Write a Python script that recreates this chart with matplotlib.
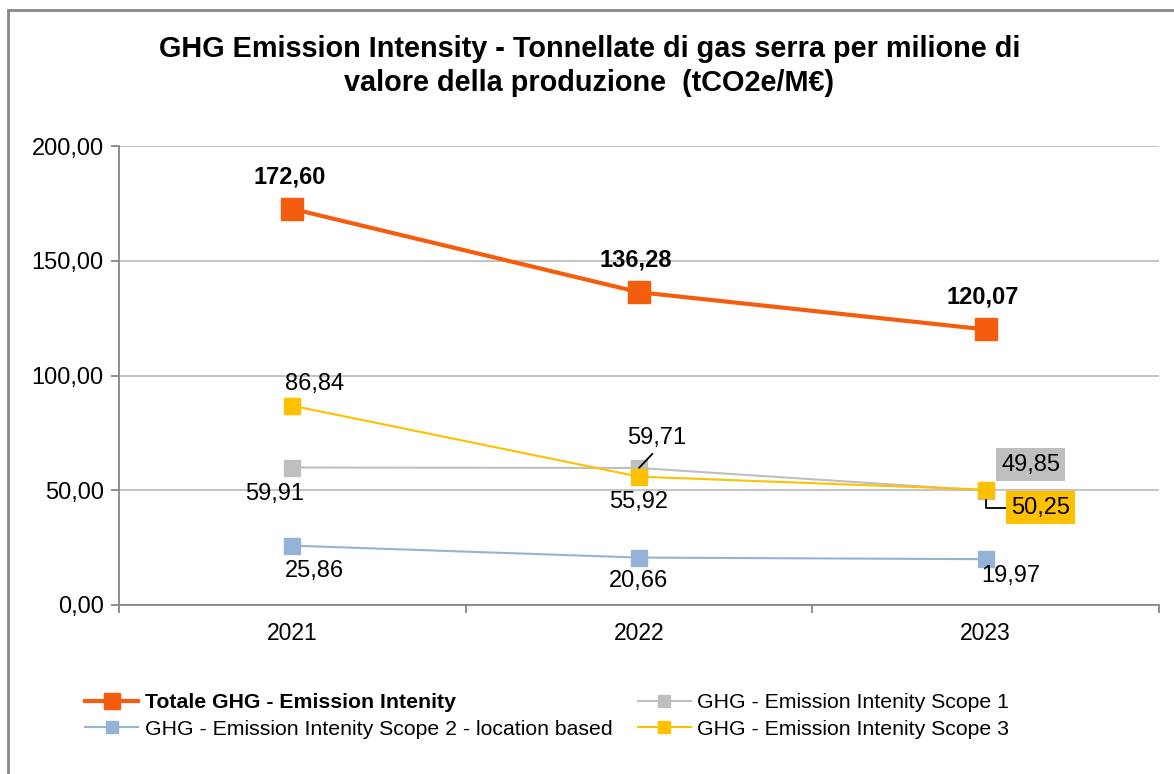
import numpy as np
import matplotlib
matplotlib.use('agg')
import matplotlib.pyplot as plt
from matplotlib.patches import Rectangle

## Data
years = ['2021', '2022', '2023']
totale = [172.60, 136.28, 120.07]
scope1 = [59.91, 59.71, 49.85]
scope2 = [25.86, 20.66, 19.97]
scope3 = [86.84, 55.92, 50.25]

names = ['Totale GHG - Emission Intenity',
         'GHG - Emission Intenity Scope 1',
         'GHG - Emission Intenity Scope 2 - location based',
         'GHG - Emission Intenity Scope 3']

c_tot = '#F55D0E'
c_s1 = '#BFBFBF'
c_s2 = '#95B3D7'
c_s3 = '#FFC000'

def fmt(v):
    return ('%.2f' % v).replace('.', ',')

plt.rcParams['font.family'] = ['Liberation Sans', 'DejaVu Sans']
fs = 17

fig = plt.figure(figsize=(11.74, 7.74), dpi=100)
ax = fig.add_axes([119/1174, 1-605/774, 1040/1174, 459/774])

x = np.arange(len(years)) + 0.5

# grid
ax.set_ylim(0, 200)
ax.set_xlim(0, 3)
ax.set_yticks([0, 50, 100, 150, 200])
ax.set_yticklabels([fmt(v) for v in [0, 50, 100, 150, 200]], fontsize=fs)
ax.yaxis.grid(True, color='#BFBFBF', linewidth=1.3)
ax.set_axisbelow(True)
ax.set_xticks([0, 1, 2, 3])
ax.set_xticklabels([])
ax.set_xticks(x, minor=True)
ax.set_xticklabels(years, minor=True, fontsize=16.5)
ax.tick_params(axis='x', which='minor', length=0, pad=12)
ax.tick_params(axis='x', which='major', length=6, color='#868686', width=1.3)
ax.tick_params(axis='y', length=6, color='#868686', width=1.3, pad=5)
for s in ['top', 'right']:
    ax.spines[s].set_visible(False)
for s in ['left', 'bottom']:
    ax.spines[s].set_color('#868686')
    ax.spines[s].set_linewidth(1.3)

# lines
l_s2, = ax.plot(x, scope2, color=c_s2, lw=1.5, marker='s', ms=12, mec=c_s2, mfc=c_s2, zorder=3)
l_s1, = ax.plot(x, scope1, color=c_s1, lw=1.5, marker='s', ms=12, mec=c_s1, mfc=c_s1, zorder=3)
l_s3, = ax.plot(x, scope3, color=c_s3, lw=1.5, marker='s', ms=12, mec=c_s3, mfc=c_s3, zorder=4)
l_tot, = ax.plot(x, totale, color=c_tot, lw=3, marker='s', ms=16, mec=c_tot, mfc=c_tot, zorder=5)

px = 0.72  # points per pixel

# labels Totale
for xi, v in zip(x, totale):
    ax.annotate(fmt(v), (xi, v), xytext=(-3*px, 32*px), textcoords='offset points',
                ha='center', va='center', fontsize=fs, fontweight='bold')

# Scope 3
ax.annotate(fmt(scope3[0]), (x[0], scope3[0]), xytext=(22*px, 22*px), textcoords='offset points',
            ha='center', va='center', fontsize=fs)
ax.annotate(fmt(scope3[1]), (x[1], scope3[1]), xytext=(0, -25*px), textcoords='offset points',
            ha='center', va='center', fontsize=fs)
ax.annotate(fmt(scope3[2]), (x[2], scope3[2]), xytext=(55*px, -18*px), textcoords='offset points',
            ha='center', va='center', fontsize=fs,
            bbox=dict(boxstyle='square,pad=0.22', fc=c_s3, ec='none'),
            arrowprops=dict(arrowstyle='-', color='black', lw=1.3, shrinkA=0, shrinkB=4,
                            relpos=(0, 0.5), connectionstyle='angle,angleA=0,angleB=90,rad=0'))

# Scope 1
ax.annotate(fmt(scope1[0]), (x[0], scope1[0]), xytext=(-18*px, -26*px), textcoords='offset points',
            ha='center', va='center', fontsize=fs)
ax.annotate(fmt(scope1[1]), (x[1], scope1[1]), xytext=(18*px, 30*px), textcoords='offset points',
            ha='center', va='center', fontsize=fs,
            arrowprops=dict(arrowstyle='-', color='black', lw=1.3, shrinkA=2, shrinkB=0,
                            relpos=(0.5, 0)))
ax.annotate(fmt(scope1[2]), (x[2], scope1[2]), xytext=(45*px, 26*px), textcoords='offset points',
            ha='center', va='center', fontsize=fs,
            bbox=dict(boxstyle='square,pad=0.22', fc=c_s1, ec='none'))

# Scope 2
ax.annotate(fmt(scope2[0]), (x[0], scope2[0]), xytext=(22*px, -25*px), textcoords='offset points',
            ha='center', va='center', fontsize=fs)
ax.annotate(fmt(scope2[1]), (x[1], scope2[1]), xytext=(0, -23*px), textcoords='offset points',
            ha='center', va='center', fontsize=fs)
ax.annotate(fmt(scope2[2]), (x[2], scope2[2]), xytext=(25*px, -17*px), textcoords='offset points',
            ha='center', va='center', fontsize=fs)

# title
fig.text(0.502, 1-66/774, 'GHG Emission Intensity - Tonnellate di gas serra per milione di\n'
         'valore della produzione  (tCO2e/M€)', ha='center', va='center',
         fontsize=20.8, fontweight='bold', linespacing=1.28)

# legend
leg = fig.legend([l_tot, l_s2, l_s1, l_s3], [names[0], names[2], names[1], names[3]],
                 ncol=2, loc='center left', bbox_to_anchor=(66/1174, 1-716/774),
                 frameon=False, fontsize=15.3, handlelength=2.5, columnspacing=1.2,
                 labelspacing=0.35, handletextpad=0.3)
leg.get_texts()[0].set_fontweight('bold')
for h in leg.legend_handles[1:]:
    h.set_markersize(8.5)
leg.legend_handles[0].set_markersize(12)

# chart area border (left and top visible)
fig.add_artist(Rectangle((8/1174, -0.05), 1.2, 1.05 - 10/774, transform=fig.transFigure,
                         fill=False, ec='#888888', lw=2, clip_on=False))

fig.savefig('out.png', dpi=100)
